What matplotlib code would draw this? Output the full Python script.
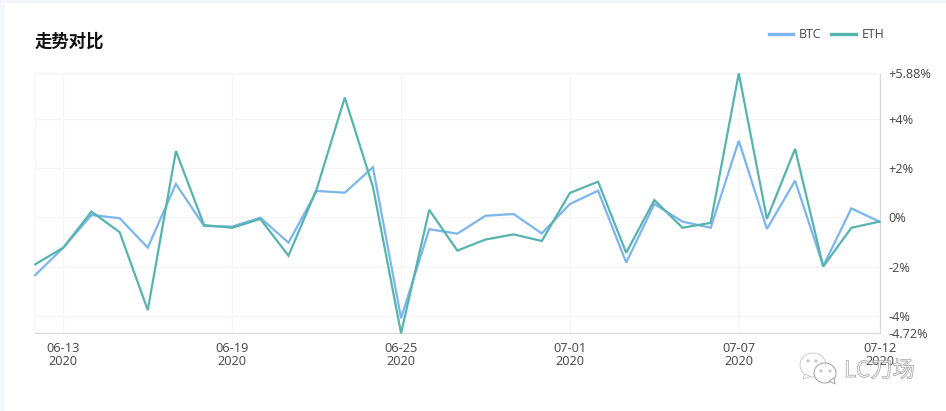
import matplotlib
matplotlib.use('Agg')
import matplotlib.pyplot as plt
import matplotlib.patheffects as pe
from matplotlib.patches import Ellipse, Polygon
import pandas as pd

plt.rcParams['font.family'] = ['Noto Sans CJK SC', 'DejaVu Sans']

dates = ['2020-06-12', '2020-06-13', '2020-06-14', '2020-06-15', '2020-06-16', '2020-06-17',
         '2020-06-18', '2020-06-19', '2020-06-20', '2020-06-21', '2020-06-22', '2020-06-23',
         '2020-06-24', '2020-06-25', '2020-06-26', '2020-06-27', '2020-06-28', '2020-06-29',
         '2020-06-30', '2020-07-01', '2020-07-02', '2020-07-03', '2020-07-04', '2020-07-05',
         '2020-07-06', '2020-07-07', '2020-07-08', '2020-07-09', '2020-07-10', '2020-07-11',
         '2020-07-12']
btc = [-2.35, -1.23, 0.10, -0.03, -1.23, 1.37, -0.35, -0.37, -0.01, -1.03, 1.08, 1.01,
       2.05, -4.11, -0.48, -0.66, 0.07, 0.14, -0.65, 0.55, 1.09, -1.84, 0.55, -0.17,
       -0.42, 3.13, -0.47, 1.50, -1.98, 0.37, -0.17]
eth = [-1.91, -1.23, 0.24, -0.60, -3.78, 2.71, -0.31, -0.42, -0.06, -1.56, 1.15, 4.89,
       1.25, -4.72, 0.31, -1.35, -0.90, -0.69, -0.96, 1.00, 1.46, -1.44, 0.71, -0.42,
       -0.22, 5.88, -0.06, 2.80, -2.00, -0.42, -0.17]
ytick_vals = [5.88, 4, 2, 0, -2, -4, -4.72]
ytick_labels = ['+5.88%', '+4%', '+2%', '0%', '-2%', '-4%', '-4.72%']
xtick_dates = ['2020-06-13', '2020-06-19', '2020-06-25', '2020-07-01', '2020-07-07', '2020-07-12']
xtick_labels = ['06-13\n2020', '06-19\n2020', '06-25\n2020', '07-01\n2020', '07-07\n2020', '07-12\n2020']

W, H = 946, 411
BTC_COL = '#7cb5ec'
ETH_COL = '#56b3ae'
TXT = '#444444'

fig = plt.figure(figsize=(W / 100, H / 100), dpi=100, facecolor='white')

# page strip behind the white card
bg = fig.add_axes([0, 0, 1, 1], zorder=0)
bg.set_xlim(0, W)
bg.set_ylim(H, 0)
bg.axis('off')
bg.axvspan(0, 5, color='#f5f6fb', lw=0)
bg.axhspan(0, 3, color='#f5f6fb', lw=0)

ax = fig.add_axes([35.2 / W, 1 - 333.2 / H, (879.5 - 35.2) / W, (333.2 - 73.3) / H], zorder=1)
ax.patch.set_alpha(0)
x = pd.to_datetime(dates)
ax.plot(x, btc, color=BTC_COL, lw=1.6, solid_joinstyle='miter', zorder=3, clip_on=False)
ax.plot(x, eth, color=ETH_COL, lw=1.6, solid_joinstyle='miter', zorder=4, clip_on=False)

ax.set_xlim(x[0], x[-1])
ax.set_ylim(-4.72, 5.88)
ax.yaxis.tick_right()
ax.set_yticks(ytick_vals)
ax.set_yticklabels(ytick_labels)
ax.set_xticks(pd.to_datetime(xtick_dates))
ax.set_xticklabels(xtick_labels, linespacing=0.95)
ax.tick_params(axis='y', length=0, pad=6.5, labelsize=9.2, labelcolor=TXT)
ax.tick_params(axis='x', length=0, pad=6.5, labelsize=9.2, labelcolor=TXT)
for lab in ax.get_xticklabels() + ax.get_yticklabels():
    lab.set_family(['Open Sans', 'DejaVu Sans'])

ax.grid(True, color='#f5f5f5', lw=0.9)
ax.set_axisbelow(True)
ax.spines['top'].set_color('#f5f5f5')
ax.spines['left'].set_color('#f5f5f5')
ax.spines['right'].set_color('#d9d9d9')
ax.spines['bottom'].set_color('#d9d9d9')
for s in ax.spines.values():
    s.set_linewidth(0.9)

# overlay in pixel coordinates: title, legend, watermark
ov = fig.add_axes([0, 0, 1, 1], zorder=5)
ov.set_xlim(0, W)
ov.set_ylim(H, 0)
ov.axis('off')
ov.text(35, 41.5, '走势对比', fontsize=12.5, fontweight='bold', color='#111111', va='center', ha='left')

ov.plot([769, 793], [34, 34], color=BTC_COL, lw=2.4)
ov.text(799, 34.5, 'BTC', fontsize=8.8, color=TXT, va='center', family=['Open Sans', 'DejaVu Sans'])
ov.plot([831, 856], [34, 34], color=ETH_COL, lw=2.4)
ov.text(861.5, 34.5, 'ETH', fontsize=8.8, color=TXT, va='center', family=['Open Sans', 'DejaVu Sans'])

# watermark, the 2020 tick label shows through it as in the reference
ov.text(844, 370.5, 'LC刀场', fontsize=16, color=(1, 1, 1, 0.35), va='center', ha='left', fontweight='light',
        path_effects=[pe.withStroke(linewidth=0.6, foreground='#999999')])
ov.add_patch(Ellipse((813, 365), 26, 24, fc='white', ec='#c4c4c4', lw=0.6))
ov.add_patch(Polygon([[805, 374], [803, 379], [811, 376.5]], fc='white', ec='#c4c4c4', lw=0.6))
ov.add_patch(Ellipse((825, 373), 22, 20, fc='white', ec='#a0a0a0', lw=0.7))
ov.add_patch(Polygon([[829, 381], [835, 384], [834, 378]], fc='white', ec='#a0a0a0', lw=0.7))
for ex, ey in [(808, 361), (816, 361), (821, 371), (830, 371)]:
    ov.add_patch(Ellipse((ex, ey), 2.2, 2.2, fc='white', ec='#a0a0a0', lw=0.5))

fig.savefig('out.png', dpi=100)
